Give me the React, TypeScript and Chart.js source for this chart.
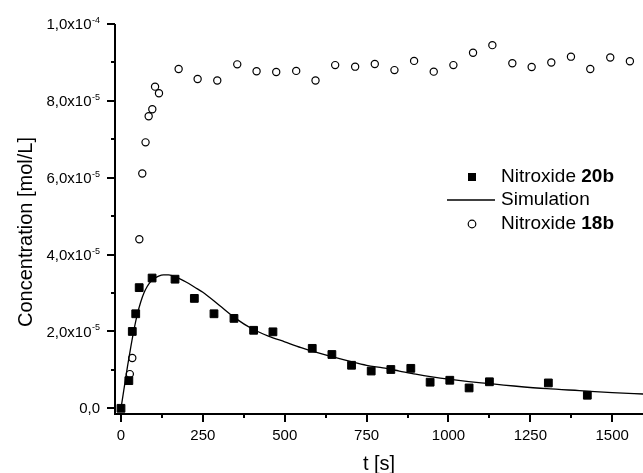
import React, { useEffect, useRef } from "react";
import { Chart, registerables } from "chart.js";

Chart.register(...registerables);

// Nitroxide 20b (filled squares)
const t20b = [0, 24, 34.5, 45, 55.6, 95, 165, 224, 284, 345, 405, 464, 584, 644, 704, 764, 824, 885, 944, 1004, 1063, 1125, 1305, 1424];
const c20b = [0, 0.72e-5, 2.0e-5, 2.46e-5, 3.14e-5, 3.39e-5, 3.36e-5, 2.86e-5, 2.46e-5, 2.34e-5, 2.03e-5, 1.99e-5, 1.56e-5, 1.4e-5, 1.12e-5, 0.97e-5, 1.01e-5, 1.04e-5, 0.68e-5, 0.73e-5, 0.53e-5, 0.69e-5, 0.66e-5, 0.34e-5];

// Nitroxide 18b (open circles)
const t18b = [27, 34.5, 56, 65, 75, 84.5, 95.6, 104, 116, 176, 234, 294, 355, 414, 474, 535, 594, 654, 715, 775, 835, 895, 955, 1015, 1075, 1134, 1195, 1254, 1314, 1374, 1433, 1494, 1554];
const c18b = [0.89e-5, 1.31e-5, 4.4e-5, 6.11e-5, 6.92e-5, 7.6e-5, 7.78e-5, 8.37e-5, 8.2e-5, 8.83e-5, 8.57e-5, 8.53e-5, 8.95e-5, 8.77e-5, 8.75e-5, 8.78e-5, 8.53e-5, 8.93e-5, 8.89e-5, 8.96e-5, 8.8e-5, 9.04e-5, 8.76e-5, 8.93e-5, 9.25e-5, 9.45e-5, 8.98e-5, 8.88e-5, 9.0e-5, 9.15e-5, 8.83e-5, 9.13e-5, 9.03e-5];

// Simulation curve
const tSim = [0, 10, 20, 30, 40, 50, 60, 70, 80, 90, 100, 115, 130, 145, 160, 180, 200, 225, 250, 300, 350, 400, 450, 500, 550, 600, 650, 700, 750, 800, 850, 900, 950, 1000, 1100, 1200, 1300, 1400, 1500, 1600];
const cSim = [0, 0.55e-5, 1.1e-5, 1.6e-5, 2.06e-5, 2.45e-5, 2.76e-5, 3.0e-5, 3.17e-5, 3.29e-5, 3.37e-5, 3.44e-5, 3.47e-5, 3.47e-5, 3.44e-5, 3.37e-5, 3.28e-5, 3.15e-5, 3.02e-5, 2.68e-5, 2.34e-5, 2.07e-5, 1.88e-5, 1.73e-5, 1.58e-5, 1.45e-5, 1.33e-5, 1.22e-5, 1.12e-5, 1.05e-5, 0.97e-5, 0.89e-5, 0.82e-5, 0.76e-5, 0.66e-5, 0.58e-5, 0.51e-5, 0.46e-5, 0.41e-5, 0.37e-5];

// Axes
const xMajor = [0, 250, 500, 750, 1000, 1250, 1500];
const xMinor = [125, 375, 625, 875, 1125, 1375];
const xTickLabels = ["0", "250", "500", "750", "1000", "1250", "1500"];
const yMajor = [0, 2e-5, 4e-5, 6e-5, 8e-5, 1e-4];
const yMinor = [1e-5, 3e-5, 5e-5, 7e-5, 9e-5];
const yTickMantissa = ["0,0", "2,0x10", "4,0x10", "6,0x10", "8,0x10", "1,0x10"];
const yTickExponent = ["", "-5", "-5", "-5", "-5", "-4"];
const X_MIN = -18.3;
const X_MAX = 1594;
const Y_MIN = -1.48e-6;
const Y_MAX = 1e-4;

const FONT = "'Liberation Sans', Arial, Helvetica, sans-serif";

const decorPlugin = {
  id: "decor",
  afterDraw(chart: any) {
    const ctx = chart.ctx as CanvasRenderingContext2D;
    const xs = chart.scales.x;
    const ys = chart.scales.y;
    const area = chart.chartArea;
    ctx.save();
    ctx.strokeStyle = "#000";
    ctx.fillStyle = "#000";
    ctx.lineWidth = 2;
    // axis lines
    ctx.beginPath();
    ctx.moveTo(area.left, area.top);
    ctx.lineTo(area.left, area.bottom + 1);
    ctx.moveTo(area.left - 1, area.bottom);
    ctx.lineTo(area.right, area.bottom);
    ctx.stroke();
    // y ticks
    ctx.beginPath();
    yMajor.forEach((v) => {
      const p = Math.round(ys.getPixelForValue(v));
      ctx.moveTo(area.left - 8, p);
      ctx.lineTo(area.left, p);
    });
    yMinor.forEach((v) => {
      const p = Math.round(ys.getPixelForValue(v));
      ctx.moveTo(area.left - 4, p);
      ctx.lineTo(area.left, p);
    });
    // x ticks
    xMajor.forEach((v) => {
      const p = Math.round(xs.getPixelForValue(v));
      ctx.moveTo(p, area.bottom);
      ctx.lineTo(p, area.bottom + 8);
    });
    xMinor.forEach((v) => {
      const p = Math.round(xs.getPixelForValue(v));
      ctx.moveTo(p, area.bottom);
      ctx.lineTo(p, area.bottom + 4);
    });
    ctx.stroke();

    // y tick labels
    const labelRight = area.left - 15;
    yMajor.forEach((v, i) => {
      const p = ys.getPixelForValue(v);
      let right = labelRight;
      const exp = yTickExponent[i];
      if (exp) {
        ctx.font = `9px ${FONT}`;
        ctx.textAlign = "right";
        ctx.textBaseline = "alphabetic";
        const w = ctx.measureText(exp).width;
        ctx.fillText(exp, right, p - 1);
        right -= w + 0.5;
      }
      ctx.font = `15px ${FONT}`;
      ctx.textAlign = "right";
      ctx.textBaseline = "middle";
      ctx.fillText(yTickMantissa[i], right, p + 1);
    });

    // x tick labels
    ctx.font = `15px ${FONT}`;
    ctx.textAlign = "center";
    ctx.textBaseline = "middle";
    xMajor.forEach((v, i) => {
      const p = xs.getPixelForValue(v);
      ctx.fillText(xTickLabels[i], p, area.bottom + 22);
    });

    // axis titles
    ctx.font = `20px ${FONT}`;
    ctx.textAlign = "center";
    ctx.textBaseline = "middle";
    ctx.fillText("t [s]", (area.left + area.right) / 2, area.bottom + 50);
    ctx.save();
    ctx.translate(26, 232);
    ctx.rotate(-Math.PI / 2);
    ctx.fillText("Concentration [mol/L]", 0, 0);
    ctx.restore();

    // legend
    const lx = 472;
    const tx = 501;
    const rows = [177, 200, 224];
    ctx.fillRect(lx - 4, rows[0] - 4, 8, 8);
    ctx.lineWidth = 1.3;
    ctx.beginPath();
    ctx.moveTo(447, rows[1]);
    ctx.lineTo(495, rows[1]);
    ctx.stroke();
    ctx.lineWidth = 1.2;
    ctx.beginPath();
    ctx.arc(lx, rows[2], 3.8, 0, Math.PI * 2);
    ctx.stroke();

    ctx.textAlign = "left";
    ctx.textBaseline = "middle";
    const drawMixed = (a: string, b: string, y: number) => {
      ctx.font = `19px ${FONT}`;
      ctx.fillText(a, tx, y);
      const w = ctx.measureText(a).width;
      ctx.font = `bold 19px ${FONT}`;
      ctx.fillText(b, tx + w, y);
    };
    drawMixed("Nitroxide ", "20b", rows[0]);
    ctx.font = `19px ${FONT}`;
    ctx.fillText("Simulation", tx, rows[1]);
    drawMixed("Nitroxide ", "18b", rows[2]);
    ctx.restore();
  },
};

export default function App() {
  const ref = useRef<HTMLCanvasElement>(null);
  useEffect(() => {
    document.body.style.margin = "0";
    const canvas = ref.current;
    if (!canvas) return;
    const chart = new Chart(canvas, {
      type: "scatter",
      data: {
        datasets: [
          {
            label: "Simulation",
            data: tSim.map((t, i) => ({ x: t, y: cSim[i] })),
            showLine: true,
            borderColor: "#000",
            backgroundColor: "#000",
            borderWidth: 1.3,
            pointRadius: 0,
            cubicInterpolationMode: "monotone",
            order: 3,
          },
          {
            label: "Nitroxide 18b",
            data: t18b.map((t, i) => ({ x: t, y: c18b[i] })),
            pointStyle: "circle",
            pointRadius: 3.6,
            borderWidth: 1.2,
            borderColor: "#000",
            backgroundColor: "rgba(255,255,255,0)",
            order: 2,
            clip: false,
          },
          {
            label: "Nitroxide 20b",
            data: t20b.map((t, i) => ({ x: t, y: c20b[i] })),
            pointStyle: "rect",
            pointRadius: 5.5,
            borderWidth: 1,
            borderColor: "#000",
            backgroundColor: "#000",
            order: 1,
            clip: false,
          },
        ],
      },
      options: {
        animation: false,
        responsive: false,
        devicePixelRatio: 1,
        layout: { autoPadding: false, padding: { top: 24, left: 0, right: 0, bottom: 0 } },
        plugins: { legend: { display: false }, tooltip: { enabled: false } },
        scales: {
          x: {
            type: "linear",
            min: X_MIN,
            max: X_MAX,
            grid: { display: false },
            border: { display: false },
            ticks: { display: false },
            afterBuildTicks: (s: any) => {
              s.ticks = xMajor.map((v) => ({ value: v }));
            },
            afterFit: (s: any) => {
              s.height = 59;
            },
          },
          y: {
            type: "linear",
            min: Y_MIN,
            max: Y_MAX,
            grid: { display: false },
            border: { display: false },
            ticks: { display: false },
            afterBuildTicks: (s: any) => {
              s.ticks = yMajor.map((v) => ({ value: v }));
            },
            afterFit: (s: any) => {
              s.width = 115;
            },
          },
        },
      },
      plugins: [decorPlugin],
    });
    return () => chart.destroy();
  }, []);
  return <canvas ref={ref} width={643} height={473} style={{ display: "block" }} />;
}
